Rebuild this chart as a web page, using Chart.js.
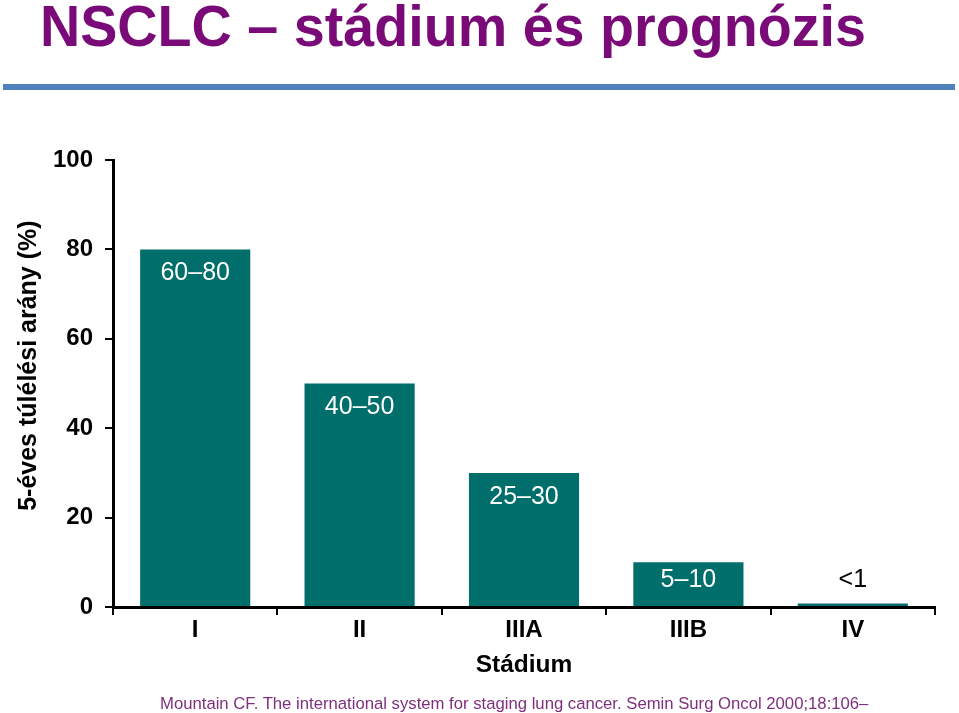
<!DOCTYPE html>
<html>
<head>
<meta charset="utf-8">
<script src="https://cdn.jsdelivr.net/npm/chart.js@4.4.0/dist/chart.umd.min.js"></script>
<style>
  html, body { margin: 0; padding: 0; background: #fff; }
  body { width: 959px; height: 713px; position: relative; overflow: hidden; font-family: "Liberation Sans", Arial, sans-serif; }
  #title { position: absolute; left: 40px; top: -8px; font-family: "Liberation Sans Narrow", "Liberation Sans", Arial, sans-serif; font-weight: bold; font-size: 58px; color: #7a0a78; white-space: nowrap; transform: scaleX(0.96); transform-origin: left top; }
  #rule { position: absolute; left: 3px; top: 84px; width: 952px; height: 6px; background: #4f81bd; }
  #note { position: absolute; left: 160px; top: 694px; font-size: 16.7px; color: #7f2f7d; white-space: nowrap; }
  #wrap { position: absolute; left: 0; top: 0; width: 959px; height: 713px; }
</style>
</head>
<body>
<div id="title">NSCLC – stádium és prognózis</div>
<div id="rule"></div>
<div id="wrap"><canvas id="c" width="959" height="713"></canvas></div>
<div id="note">Mountain CF. The international system for staging lung cancer. Semin Surg Oncol 2000;18:106–</div>
<script>
const categories = ["I", "II", "IIIA", "IIIB", "IV"];
const survival = [80, 50, 30, 10, 0.8];
const rangeLabels = ["60–80", "40–50", "25–30", "5–10", "<1"];
const yTicks = [0, 20, 40, 60, 80, 100];
const yTitle = "5-éves túlélési arány (%)";
const xTitle = "Stádium";

const barColor = "#006f6c";
const FONT = "'Liberation Sans', Arial, sans-serif";

const labelPlugin = {
  id: "rangeLabels",
  afterDatasetsDraw(chart) {
    const ctx = chart.ctx;
    const meta = chart.getDatasetMeta(0);
    ctx.save();
    ctx.font = "25px " + FONT;
    ctx.textAlign = "center";
    ctx.textBaseline = "middle";
    meta.data.forEach((bar, i) => {
      const h = bar.base - bar.y;
      let y, color;
      if (h > 30) {
        y = Math.min(bar.y + 24, bar.base - 26);
        color = "#ffffff";
      } else {
        y = bar.base - 26;
        color = "#000000";
      }
      ctx.fillStyle = color;
      ctx.fillText(rangeLabels[i], bar.x, y);
    });
    ctx.restore();
  }
};

const yTitlePlugin = {
  id: "yTitle",
  afterDraw(chart) {
    const ctx = chart.ctx;
    const y = chart.scales.y;
    ctx.save();
    ctx.translate(29, y.getPixelForValue(54));
    ctx.rotate(-Math.PI / 2);
    ctx.font = "bold 25px " + FONT;
    ctx.fillStyle = "#000";
    ctx.textAlign = "center";
    ctx.textBaseline = "middle";
    ctx.fillText(yTitle, 0, 0);
    ctx.restore();
  }
};

new Chart(document.getElementById("c"), {
  type: "bar",
  data: {
    labels: categories,
    datasets: [{
      data: survival,
      backgroundColor: barColor,
      borderWidth: 0,
      barPercentage: 0.67,
      categoryPercentage: 1.0
    }]
  },
  options: {
    responsive: false,
    animation: false,
    layout: { padding: { left: 0, right: 24, top: 160, bottom: 33 } },
    plugins: { legend: { display: false }, tooltip: { enabled: false } },
    scales: {
      x: {
        grid: { display: true, drawOnChartArea: false, drawTicks: true, tickLength: 8, color: "#000", lineWidth: 2, offset: true },
        border: { display: true, color: "#000", width: 3 },
        ticks: { color: "#000", font: { size: 24, weight: "bold", family: FONT }, padding: 1 },
        title: { display: true, text: xTitle, color: "#000", font: { size: 24.5, weight: "bold", family: FONT }, padding: { top: 6, bottom: 0 } },
        afterFit(scale) { scale.height = 73; }
      },
      y: {
        min: 0, max: 100,
        afterBuildTicks(scale) { scale.ticks = yTicks.map(v => ({ value: v })); },
        grid: { display: true, drawOnChartArea: false, drawTicks: true, tickLength: 8, color: "#000", lineWidth: 2 },
        border: { display: true, color: "#000", width: 3 },
        ticks: { color: "#000", font: { size: 24, weight: "bold", family: FONT }, padding: 12 },
        afterFit(scale) { scale.width = 113; }
      }
    }
  },
  plugins: [labelPlugin, yTitlePlugin]
});
</script>
</body>
</html>
